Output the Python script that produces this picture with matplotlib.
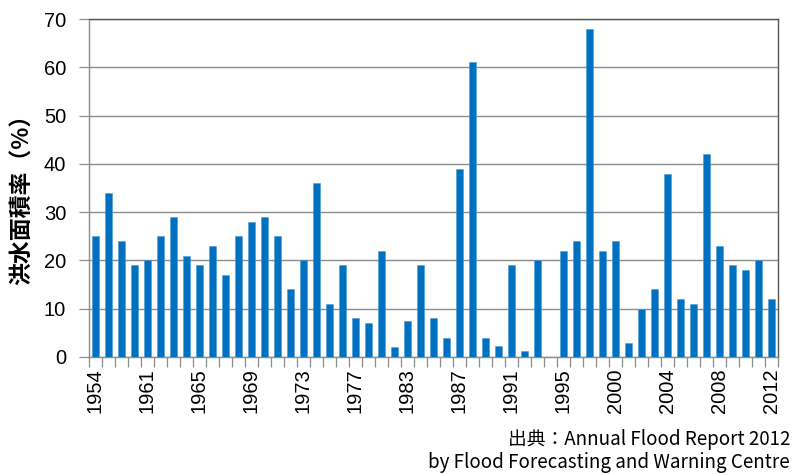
import numpy as np
import matplotlib
matplotlib.use("Agg")
import matplotlib.pyplot as plt
from matplotlib.ticker import FixedLocator

# flooded area ratio (%) per category
tick_labels = ["1954", "1961", "1965", "1969", "1973", "1977", "1983",
               "1987", "1991", "1995", "2000", "2004", "2008", "2012"]
values = [25, 34, 24, 19, 20, 25, 29, 21, 19, 23, 17, 25, 28, 29, 25, 14, 20, 36,
          11, 19, 8, 7, 22, 2, 7.5, 19, 8, 4, 39, 61, 4, 2.3, 19, 1.3, 20, 0,
          22, 24, 68, 22, 24, 2.8, 10, 14, 38, 12, 11, 42, 23, 19, 18, 20, 12]
ylabel = "洪水面積率（%）"
source1 = "出典：Annual Flood Report 2012"
source2 = "by Flood Forecasting and Warning Centre"

W, H = 801, 474
fig = plt.figure(figsize=(W / 100, H / 100), dpi=100)
ax = fig.add_axes([89 / W, 1 - 357 / H, (778 - 89) / W, (357 - 19) / H])

n = len(values)
x = np.arange(n)
ax.bar(x, values, width=0.47, color="#0070C0", edgecolor="#4a9ad6", linewidth=0.4, zorder=3)

ax.set_xlim(-0.5, n - 0.5)
ax.set_ylim(0, 70)
ax.set_yticks(np.arange(0, 71, 10))
ax.grid(axis="y", color="#8c8c8c", lw=1.0, zorder=0)

# labels every 4th category, tick marks between categories
ax.xaxis.set_major_locator(FixedLocator(x[::4]))
ax.set_xticklabels(tick_labels, rotation=90)
ax.xaxis.set_minor_locator(FixedLocator(np.arange(n + 1) - 0.5))
ax.tick_params(axis="x", which="major", length=0, pad=8, labelsize=14.5)
ax.tick_params(axis="x", which="minor", length=7.5, width=0.9, color="#8c8c8c", direction="out")
ax.tick_params(axis="y", length=7.5, width=0.9, color="#8c8c8c", pad=9, labelsize=14.5)
for lab in ax.get_xticklabels() + ax.get_yticklabels():
    lab.set_family("Liberation Sans")

for s in ("left", "bottom"):
    ax.spines[s].set_color("#8c8c8c")
for s in ("top", "right"):
    ax.spines[s].set_color("#555555")
for s in ax.spines.values():
    s.set_linewidth(1.0)

jp = ["Noto Sans CJK JP", "DejaVu Sans"]
fig.text(22.5 / W, 1 - 194 / H, ylabel, rotation=90, ha="center", va="center",
         fontsize=16.5, fontweight="bold", family=jp)
fig.text(790 / W, 1 - 439 / H, source1, ha="right", va="center", fontsize=13.5, family=jp)
fig.text(790 / W, 1 - 473 / H, source2, ha="right", va="bottom", fontsize=13.5, family=jp)

fig.savefig("out.png", dpi=100)
